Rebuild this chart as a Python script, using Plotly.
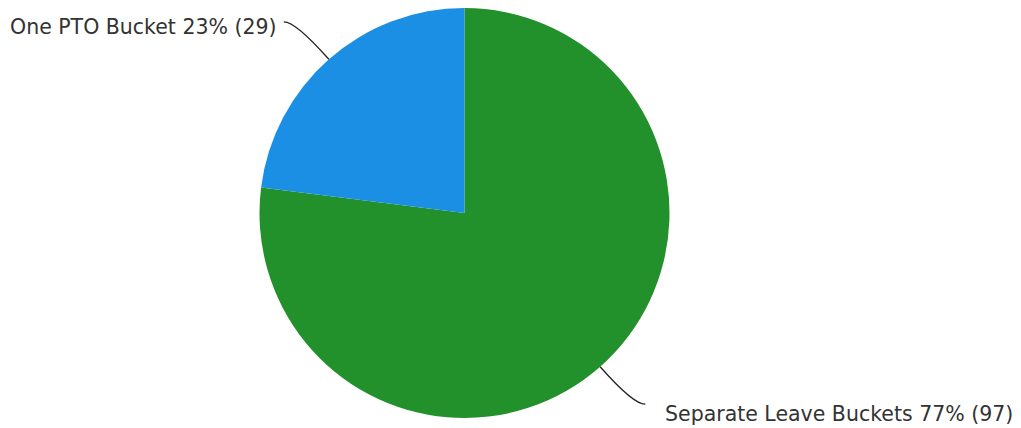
import math
import plotly.graph_objects as go

# slices listed clockwise from 12 o'clock
labels = ["Separate Leave Buckets", "One PTO Bucket"]
counts = [97, 29]
colors = ["#22902b", "#1b8fe3"]

W, H = 1021, 428
OFF = 8  # page body margin offset in the screenshot

# target pie geometry in screenshot pixels
CX, CY, R = 464.5, 213.0, 205.0
# label placement relative to the end of its leader line: (gap, dy)
LABEL_OFFSET = {1: (18, 10), -1: (5, 5)}

def px(x, y):
    return (x - OFF) / W, 1 - (y - OFF) / H

x0, y0 = px(CX - R, CY + R)
x1, y1 = px(CX + R, CY - R)
y1 = min(y1, 1.0)

fig = go.Figure(go.Pie(
    labels=labels, values=counts, sort=False, direction="clockwise",
    rotation=0, marker=dict(colors=colors, line=dict(width=0)),
    textinfo="none", hoverinfo="label+percent+value", showlegend=False,
    domain=dict(x=[x0, x1], y=[y0, y1]),
))

total = sum(counts)
start = 90.0
shapes, annotations = [], []
for lab, c in zip(labels, counts):
    span = c / total * 360
    mid = math.radians(start - span / 2)
    start -= span
    dx, dy = math.cos(mid), -math.sin(mid)
    p0 = (CX + R * dx, CY + R * dy)
    ctrl = (CX + (R + 50) * dx, CY + (R + 50) * dy)
    side = 1 if dx > 0 else -1
    end = (ctrl[0] + 12 * side, ctrl[1])
    a, b = px(*p0)
    c1, c2 = px(*ctrl)
    e1, e2 = px(*end)
    shapes.append(dict(type="path", xref="paper", yref="paper",
                       path=f"M {a},{b} Q {c1},{c2} {e1},{e2}",
                       line=dict(color="#222222", width=1.3)))
    pct = round(c / total * 100)
    gap, ddy = LABEL_OFFSET[side]
    tx, ty = px(end[0] + gap * side, end[1] + ddy)
    annotations.append(dict(text=f"{lab} {pct}% ({c})", x=tx, y=ty,
                            xref="paper", yref="paper", showarrow=False,
                            xanchor="left" if side > 0 else "right", yanchor="middle",
                            font=dict(family="DejaVu Sans", size=20.5, color="#333333")))

fig.update_layout(width=W, height=H, margin=dict(l=0, r=0, t=0, b=0),
                  paper_bgcolor="white", plot_bgcolor="white",
                  shapes=shapes, annotations=annotations)
fig.write_html("out.html")
